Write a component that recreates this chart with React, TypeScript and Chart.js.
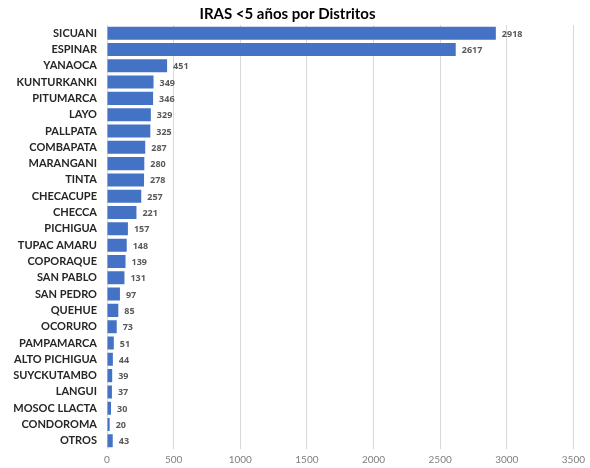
import React, { useEffect, useRef } from "react";
import { Chart, registerables } from "chart.js";

Chart.register(...registerables);

const districts = [
  "SICUANI", "ESPINAR", "YANAOCA", "KUNTURKANKI", "PITUMARCA", "LAYO", "PALLPATA",
  "COMBAPATA", "MARANGANI", "TINTA", "CHECACUPE", "CHECCA", "PICHIGUA", "TUPAC AMARU",
  "COPORAQUE", "SAN PABLO", "SAN PEDRO", "QUEHUE", "OCORURO", "PAMPAMARCA",
  "ALTO PICHIGUA", "SUYCKUTAMBO", "LANGUI", "MOSOC LLACTA", "CONDOROMA", "OTROS",
];
const cases = [
  2918, 2617, 451, 349, 346, 329, 325, 287, 280, 278, 257, 221, 157, 148, 139, 131,
  97, 85, 73, 51, 44, 39, 37, 30, 20, 43,
];
const xTicks = [0, 500, 1000, 1500, 2000, 2500, 3000, 3500];
const titleText = "IRAS <5 años por Distritos";

const FONT = "Lato, 'Open Sans', sans-serif";

const valueLabels = {
  id: "valueLabels",
  afterDatasetsDraw(chart: any) {
    const ctx = chart.ctx;
    const meta = chart.getDatasetMeta(0);
    ctx.save();
    ctx.font = `bold 9px 'Open Sans', sans-serif`;
    ctx.fillStyle = "#595959";
    ctx.textAlign = "left";
    ctx.textBaseline = "middle";
    meta.data.forEach((bar: any, i: number) => {
      ctx.fillText(String(cases[i]), bar.x + 6, bar.y + 1);
    });
    ctx.restore();
  },
};

export default function App() {
  const ref = useRef<HTMLCanvasElement>(null);
  useEffect(() => {
    document.body.style.margin = "0";
    const chart = new Chart(ref.current!, {
      type: "bar",
      data: {
        labels: districts,
        datasets: [
          {
            data: cases,
            backgroundColor: "#4472C4",
            barPercentage: 0.8,
            categoryPercentage: 1,
          },
        ],
      },
      options: {
        indexAxis: "y",
        animation: false,
        responsive: false,
        maintainAspectRatio: false,
        layout: { padding: { left: 0, right: 15, top: 0, bottom: 0 } },
        plugins: {
          legend: { display: false },
          tooltip: { enabled: false },
          title: {
            display: true,
            text: titleText,
            color: "#000000",
            font: { family: FONT, size: 15, weight: "bold" },
            padding: { top: 5, bottom: 2 },
          },
        },
        scales: {
          x: {
            min: 0,
            max: 3500,
            afterBuildTicks(scale: any) {
              scale.ticks = xTicks.map((v) => ({ value: v }));
            },
            afterFit(scale: any) {
              scale.height = 19;
            },
            grid: { color: "#d9d9d9", drawTicks: false },
            border: { display: false },
            ticks: {
              color: "#7f7f7f",
              font: { family: FONT, size: 10 },
              padding: 5,
              callback: (v: any) => String(v),
            },
          },
          y: {
            afterFit(scale: any) {
              scale.width = 107;
            },
            grid: { display: false, drawTicks: false },
            border: { display: false },
            ticks: {
              color: "#262626",
              font: { family: FONT, size: 11, weight: "bold" },
              padding: 10,
              autoSkip: false,
            },
          },
        },
      },
      plugins: [valueLabels],
    });
    return () => chart.destroy();
  }, []);
  return <canvas ref={ref} width={590} height={468} />;
}
